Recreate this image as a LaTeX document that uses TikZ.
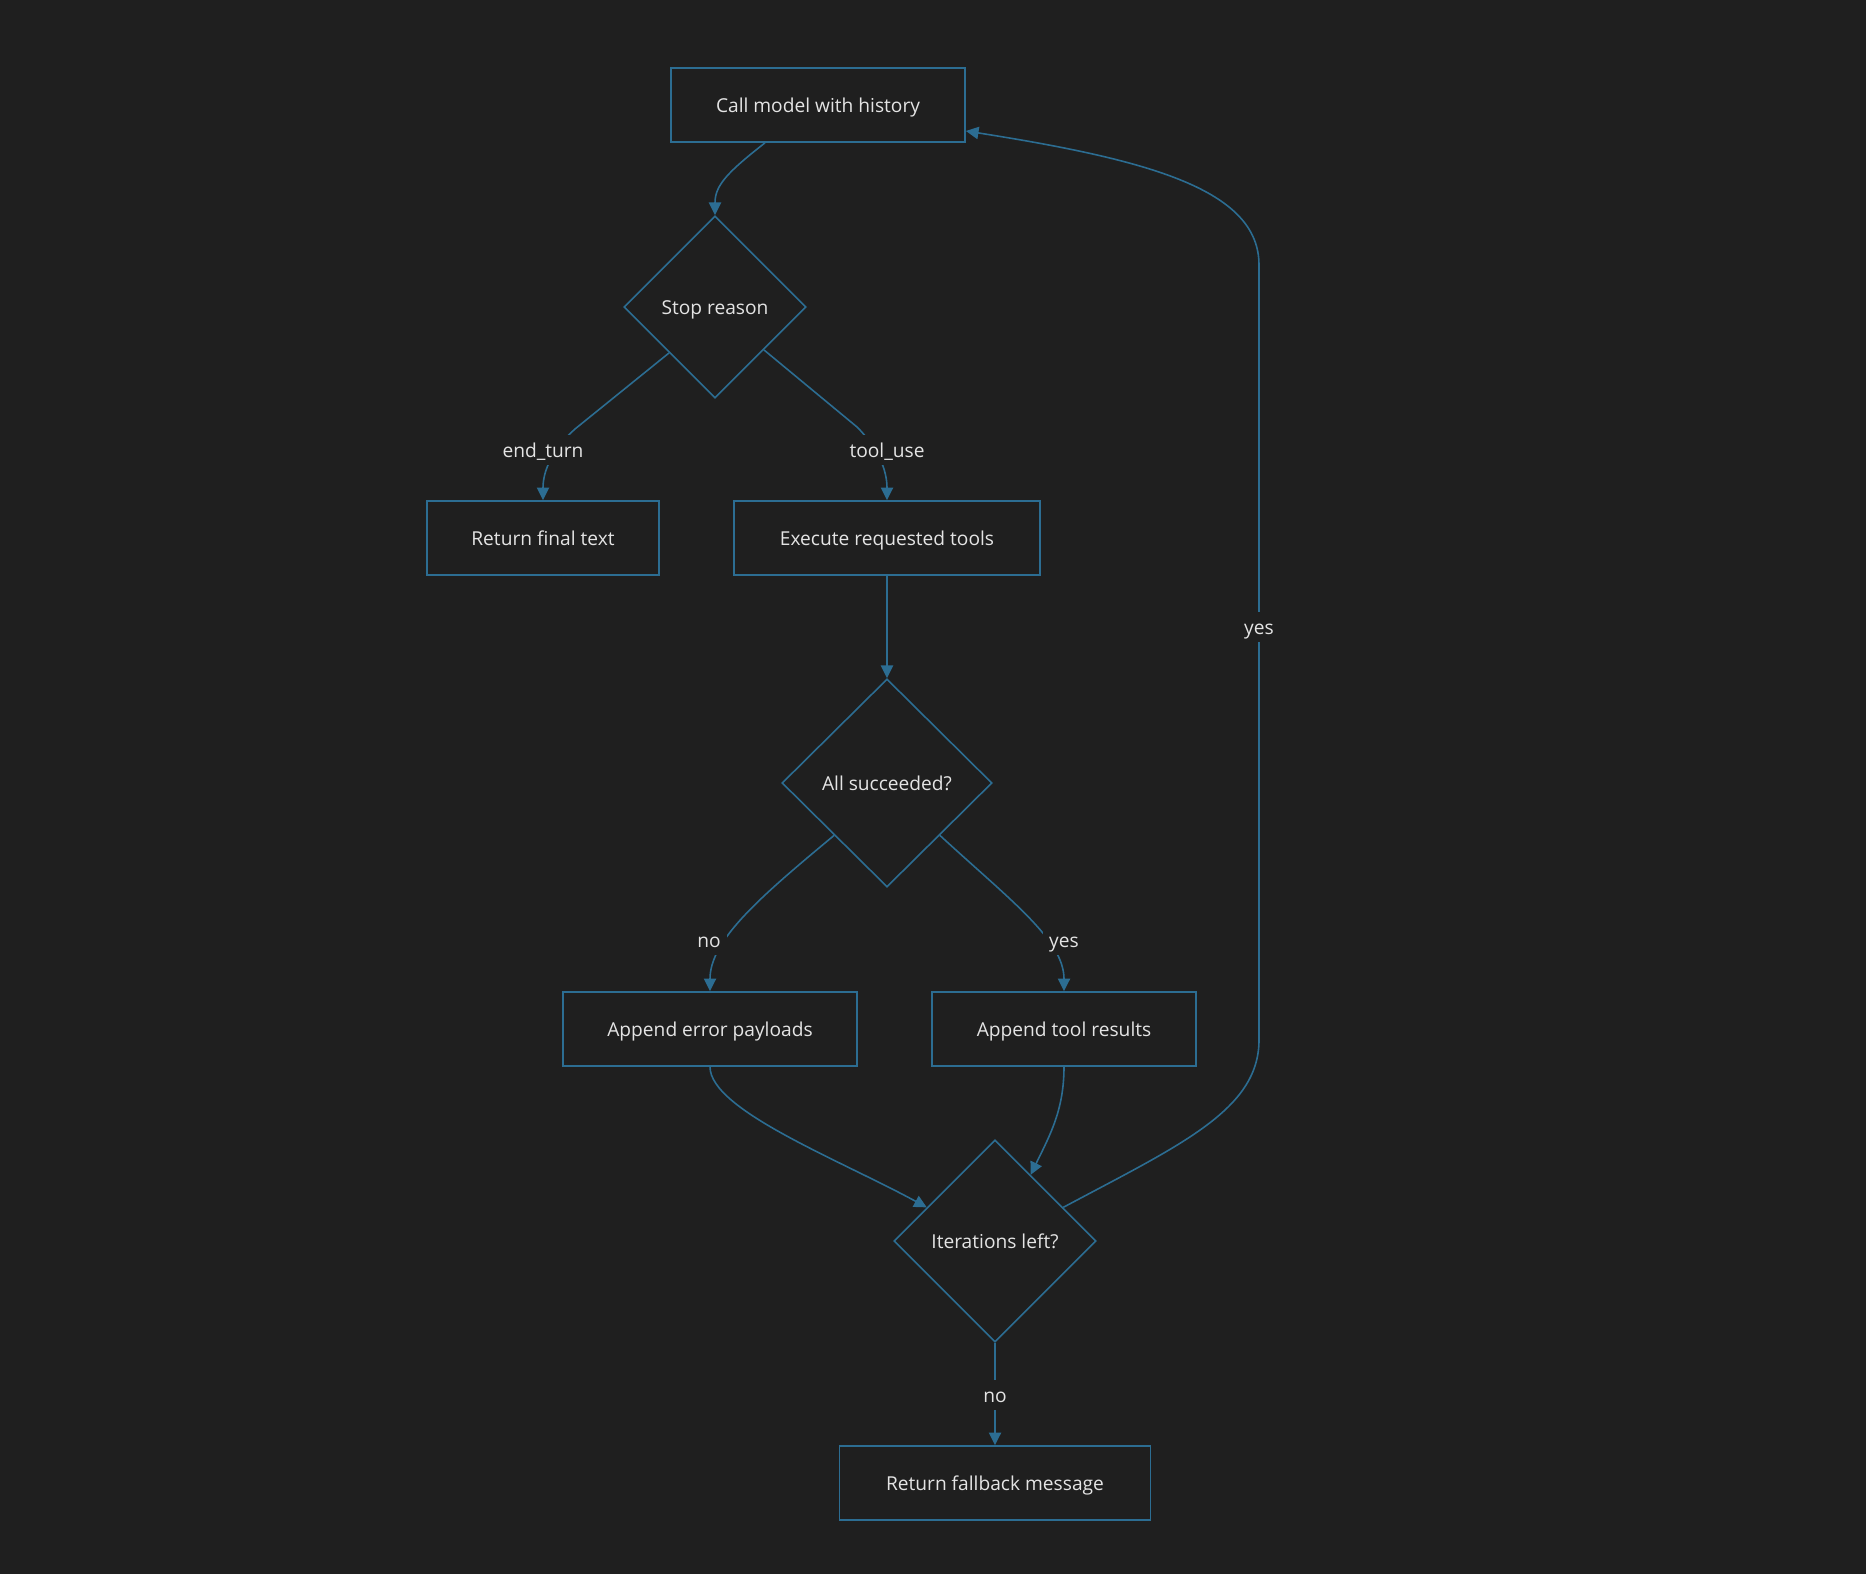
\documentclass[tikz,border=0pt]{standalone}
\usepackage{fontspec}
\setmainfont{Open Sans}
\usetikzlibrary{shapes.geometric,arrows.meta,calc}
\definecolor{bg}{HTML}{1F1F1F}
\definecolor{edge}{HTML}{2C6D92}
\definecolor{txt}{HTML}{E4E4E4}
\tikzset{
  every node/.style={text=txt, font=\fontsize{5.45pt}{7pt}\selectfont, text height=4.6pt, text depth=0.4pt},
  boxnode/.style={draw=edge, line width=0.45pt, rectangle, minimum height=0.74cm, inner sep=0pt},
  decision/.style={draw=edge, line width=0.45pt, diamond, inner sep=0pt},
  arr/.style={draw=edge, line width=0.45pt, -{Triangle[length=3.6pt,width=3.5pt]}},
  lbl/.style={fill=bg, inner sep=1.8pt},
}
\begin{document}
\begin{tikzpicture}[x=0.01cm,y=-0.01cm]
\fill[bg] (0,0) rectangle (1866,1574);
\useasboundingbox (0,0) rectangle (1866,1574);

\node[boxnode, minimum width=2.94cm] (call) at (818,105) {Call model with history};
\node[decision, minimum width=1.82cm, minimum height=1.82cm] (stop) at (715,307) {Stop reason};
\node[boxnode, minimum width=2.32cm] (ret) at (543,538) {Return final text};
\node[boxnode, minimum width=3.06cm] (exec) at (887,538) {Execute requested tools};
\node[decision, minimum width=2.10cm, minimum height=2.08cm] (succ) at (887,783) {All succeeded?};
\node[boxnode, minimum width=2.94cm] (err) at (710,1029) {Append error payloads};
\node[boxnode, minimum width=2.64cm] (res) at (1064,1029) {Append tool results};
\node[decision, minimum width=2.02cm, minimum height=2.02cm] (iter) at (995,1241) {Iterations left?};
\node[boxnode, minimum width=3.11cm] (fb) at (995,1483) {Return fallback message};

% call -> stop
\draw[arr] ($(call.south)+(-53,0)$) .. controls (728,172) and (715,185) .. (stop.north);
% stop -> ret
\draw[arr] (stop.south west) -- (575,429) .. controls (553,449) and (543,470) .. (ret.north);
% stop -> exec
\draw[arr] ($(stop.south east)+(3,-3)$) -- (857,427) .. controls (878,448) and (887,470) .. (exec.north);
% exec -> succ
\draw[arr] (exec.south) -- (succ.north);
% succ -> err
\draw[arr] (succ.south west) .. controls (760,897) and (710,940) .. (err.north);
% succ -> res
\draw[arr] (succ.south east) .. controls (1010,900) and (1064,940) .. (res.north);
% err -> iter
\coordinate (iterL) at ($(iter.west)!0.33!(iter.north)$);
\draw[arr] (err.south) .. controls (710,1110) and (840,1160) .. (iterL);
% res -> iter
\coordinate (iterR) at ($(iter.north)!0.35!(iter.east)$);
\draw[arr] (res.south) .. controls (1064,1110) and (1050,1135) .. (iterR);
% iter -> call (loop)
\coordinate (iterY) at ($(iter.north)!0.67!(iter.east)$);
\coordinate (callR) at ($(call.east)+(0,26)$);
\draw[arr] (iterY) .. controls (1180,1145) and (1259,1110) .. (1259,1040) -- (1259,265) .. controls (1259,190) and (1150,160) .. (callR);
% iter -> fb
\draw[arr] (iter.south) -- (fb.north);

% labels
\node[lbl] (lend) at (543,450) {end\_turn};
\node[lbl] (ltool) at (887,450) {tool\_use};
\node[lbl] (lno1) at (709,940) {no};
\node[lbl] (lyes1) at (1064,940) {yes};
\node[lbl] (lyes2) at (1259,627) {yes};
\node[lbl] (lno2) at (995,1395) {no};
\end{tikzpicture}
\end{document}
